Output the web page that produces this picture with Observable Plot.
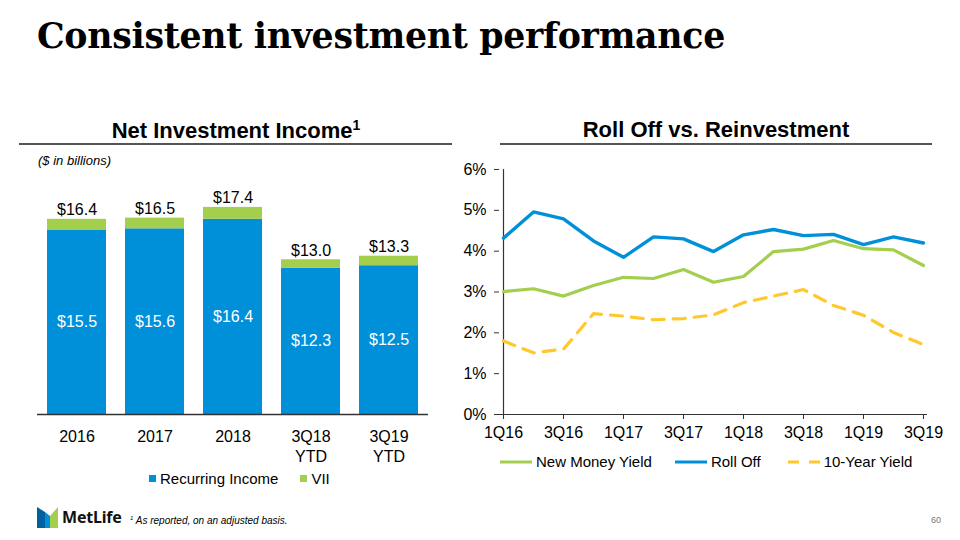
<!DOCTYPE html>
<html>
<head>
<meta charset="utf-8">
<script src="https://cdn.jsdelivr.net/npm/d3@7"></script>
<script src="https://cdn.jsdelivr.net/npm/@observablehq/plot@0.6"></script>
<style>
  html, body { margin:0; padding:0; background:#fff; }
  #page { position:relative; width:960px; height:540px; overflow:hidden; font-family:"Liberation Sans", Arial, sans-serif; color:#000; }
  .abs { position:absolute; white-space:nowrap; }
  #title { left:37px; top:15px; font-family:"DejaVu Serif", Georgia, serif; font-weight:bold; font-size:35px; transform-origin:0 0; letter-spacing:-0.3px; }
  .hdr { font-weight:bold; font-size:22px; text-align:center; }
  .hline { position:absolute; height:2px; background:#555; }
  .leg { font-size:15px; display:flex; align-items:center; }
</style>
</head>
<body>
<div id="page">
  <div id="title" class="abs">Consistent investment performance</div>

  <div class="abs hdr" style="left:20px; width:432px; top:117px;">Net Investment Income<sup style="font-size:14px; vertical-align:8px;">1</sup></div>
  <div class="hline" style="left:19px; width:433px; top:143px;"></div>
  <div class="abs hdr" style="left:500px; width:432px; top:117px;">Roll Off vs. Reinvestment</div>
  <div class="hline" style="left:500px; width:432px; top:143px;"></div>

  <div class="abs" style="left:38px; top:153px; font-size:13px; font-style:italic;">($ in billions)</div>

  <div id="bars" class="abs" style="left:0px; top:170px;"></div>
  <div id="lines" class="abs" style="left:460px; top:150px;"></div>

  <div id="barLegend" class="abs leg" style="left:149px; top:470px;"></div>
  <div id="lineLegend" class="abs leg" style="left:500px; top:453px;"></div>

  <svg class="abs" style="left:37px; top:507px;" width="21" height="21" viewBox="0 0 21 21">
    <polygon points="0,0 8,5 8,21 0,21" fill="#0061A0"/>
    <polygon points="8,5 13,9 13,21 8,21" fill="#0090DA"/>
    <polygon points="13,9 21,0 21,21 13,21" fill="#A4CE4E"/>
  </svg>
  <div class="abs" style="left:62px; top:506px; font-family:'Noto Sans', sans-serif; font-weight:bold; font-size:16px; color:#111; letter-spacing:-0.2px;">MetLife</div>
  <div class="abs" style="left:130px; top:515px; font-size:10px; font-style:italic;"><sup style="font-size:6px;">1</sup> As reported, on an adjusted basis.</div>
  <div class="abs" style="left:931px; top:515px; font-size:9px; color:#777;">60</div>
</div>
<script>
// ---- Data: Net Investment Income ($ billions)
const categories = ["2016", "2017", "2018", "3Q18 YTD", "3Q19 YTD"];
const recurringIncome = [15.5, 15.6, 16.4, 12.3, 12.5];
const vii = [0.9, 0.9, 1.0, 0.7, 0.8];
const barSeries = ["Recurring Income", "VII"];

// ---- Data: Roll Off vs. Reinvestment (%)
const quarters = ["1Q16","2Q16","3Q16","4Q16","1Q17","2Q17","3Q17","4Q17","1Q18","2Q18","3Q18","4Q18","1Q19","2Q19","3Q19"];
const newMoneyYield = [3.01, 3.08, 2.90, 3.16, 3.36, 3.33, 3.55, 3.24, 3.38, 3.99, 4.05, 4.26, 4.06, 4.03, 3.65];
const rollOff = [4.32, 4.96, 4.79, 4.25, 3.85, 4.35, 4.30, 3.99, 4.40, 4.53, 4.38, 4.41, 4.16, 4.35, 4.20];
const tenYearYield = [1.80, 1.51, 1.60, 2.47, 2.41, 2.32, 2.35, 2.44, 2.74, 2.90, 3.06, 2.67, 2.43, 2.01, 1.71];
const lineSeries = ["New Money Yield", "Roll Off", "10-Year Yield"];
const yTicks = [0, 1, 2, 3, 4, 5, 6];

const BLUE = "#0090DA", GREEN = "#A4CE4E", YELLOW = "#FFC82C";
const FONT = "'Liberation Sans', Arial, sans-serif";

// Fit title width
const t = document.getElementById("title");
const tw = t.getBoundingClientRect().width;
t.style.transform = `scaleX(${688 / tw})`;

// ---- Bar chart
const barRows = [];
categories.forEach((c, i) => {
  barRows.push({cat: c, series: "Recurring Income", value: recurringIncome[i]});
  barRows.push({cat: c, series: "VII", value: vii[i]});
});
const totals = categories.map((c, i) => ({cat: c, recurring: recurringIncome[i], total: recurringIncome[i] + vii[i]}));
const fmt = v => "$" + v.toFixed(1);

const bars = Plot.plot({
  width: 460, height: 300,
  marginLeft: 37, marginRight: 32, marginTop: 0, marginBottom: 56,
  style: {fontFamily: FONT, fontSize: "16px", color: "#000", background: "transparent"},
  x: {domain: categories, paddingInner: 0.24, paddingOuter: 0.12, label: null},
  y: {domain: [0, 20.5], axis: null},
  color: {domain: barSeries, range: [BLUE, GREEN]},
  marks: [
    Plot.barY(barRows, {x: "cat", y: "value", fill: "series", order: barSeries}),
    Plot.text(totals, {x: "cat", y: d => d.recurring / 2, text: d => fmt(d.recurring), fill: "white", fontSize: 16}),
    Plot.text(totals, {x: "cat", y: "total", text: d => fmt(d.total), lineAnchor: "bottom", dy: -4, fill: "#000", fontSize: 16}),
    Plot.ruleY([0], {stroke: "#333", strokeWidth: 1.5}),
    Plot.axisX({tickSize: 0, tickPadding: 13, fontSize: 16, lineHeight: 1.25, fill: "#000",
      tickFormat: d => d.replace(" ", "\n"), label: null})
  ]
});
document.getElementById("bars").appendChild(bars);

// ---- Line chart
const lineRows = [];
quarters.forEach((q, i) => {
  lineRows.push({q, series: "New Money Yield", v: newMoneyYield[i]});
  lineRows.push({q, series: "Roll Off", v: rollOff[i]});
  lineRows.push({q, series: "10-Year Yield", v: tenYearYield[i]});
});
const lines = Plot.plot({
  width: 500, height: 300,
  marginLeft: 39, marginRight: 33, marginTop: 19, marginBottom: 36,
  style: {fontFamily: FONT, fontSize: "16px", color: "#000", background: "transparent"},
  x: {type: "point", domain: quarters, padding: 0, label: null},
  y: {domain: [0, 6], label: null},
  marks: [
    Plot.ruleX([quarters[0]], {stroke: "#333", strokeWidth: 1.2}),
    Plot.ruleY([0], {stroke: "#333", strokeWidth: 1.2}),
    Plot.axisY({ticks: yTicks, tickSize: 5, tickPadding: 8, tickFormat: d => d + "%", fontSize: 16, fill: "#000", stroke: "#333", label: null}),
    Plot.axisX({ticks: quarters.filter((d, i) => i % 2 === 0), tickSize: 5, tickPadding: 7, fontSize: 16, fill: "#000", stroke: "#333", label: null}),
    Plot.line(lineRows.filter(d => d.series === "New Money Yield"), {x: "q", y: "v", stroke: GREEN, strokeWidth: 3.2}),
    Plot.line(lineRows.filter(d => d.series === "Roll Off"), {x: "q", y: "v", stroke: BLUE, strokeWidth: 3.4}),
    Plot.line(lineRows.filter(d => d.series === "10-Year Yield"), {x: "q", y: "v", stroke: YELLOW, strokeWidth: 3.2, strokeDasharray: "12,9"})
  ]
});
document.getElementById("lines").appendChild(lines);

// ---- Legends
const bl = document.getElementById("barLegend");
bl.innerHTML = barSeries.map((s, i) =>
  `<span style="display:inline-block;width:7px;height:7px;background:${[BLUE, GREEN][i]};margin-right:4px;"></span><span style="margin-right:${i === 0 ? 22 : 0}px;">${s}</span>`
).join("");

const ll = document.getElementById("lineLegend");
const swatch = (c, dash) => `<svg width="32" height="10" style="margin-right:4px;"><line x1="0" x2="32" y1="5" y2="5" stroke="${c}" stroke-width="3" ${dash ? 'stroke-dasharray="11,10"' : ""}/></svg>`;
ll.innerHTML =
  `${swatch(GREEN)}<span style="margin-right:23px;">${lineSeries[0]}</span>` +
  `${swatch(BLUE)}<span style="margin-right:27px;">${lineSeries[1]}</span>` +
  `${swatch(YELLOW, true)}<span>${lineSeries[2]}</span>`;
</script>
</body>
</html>
